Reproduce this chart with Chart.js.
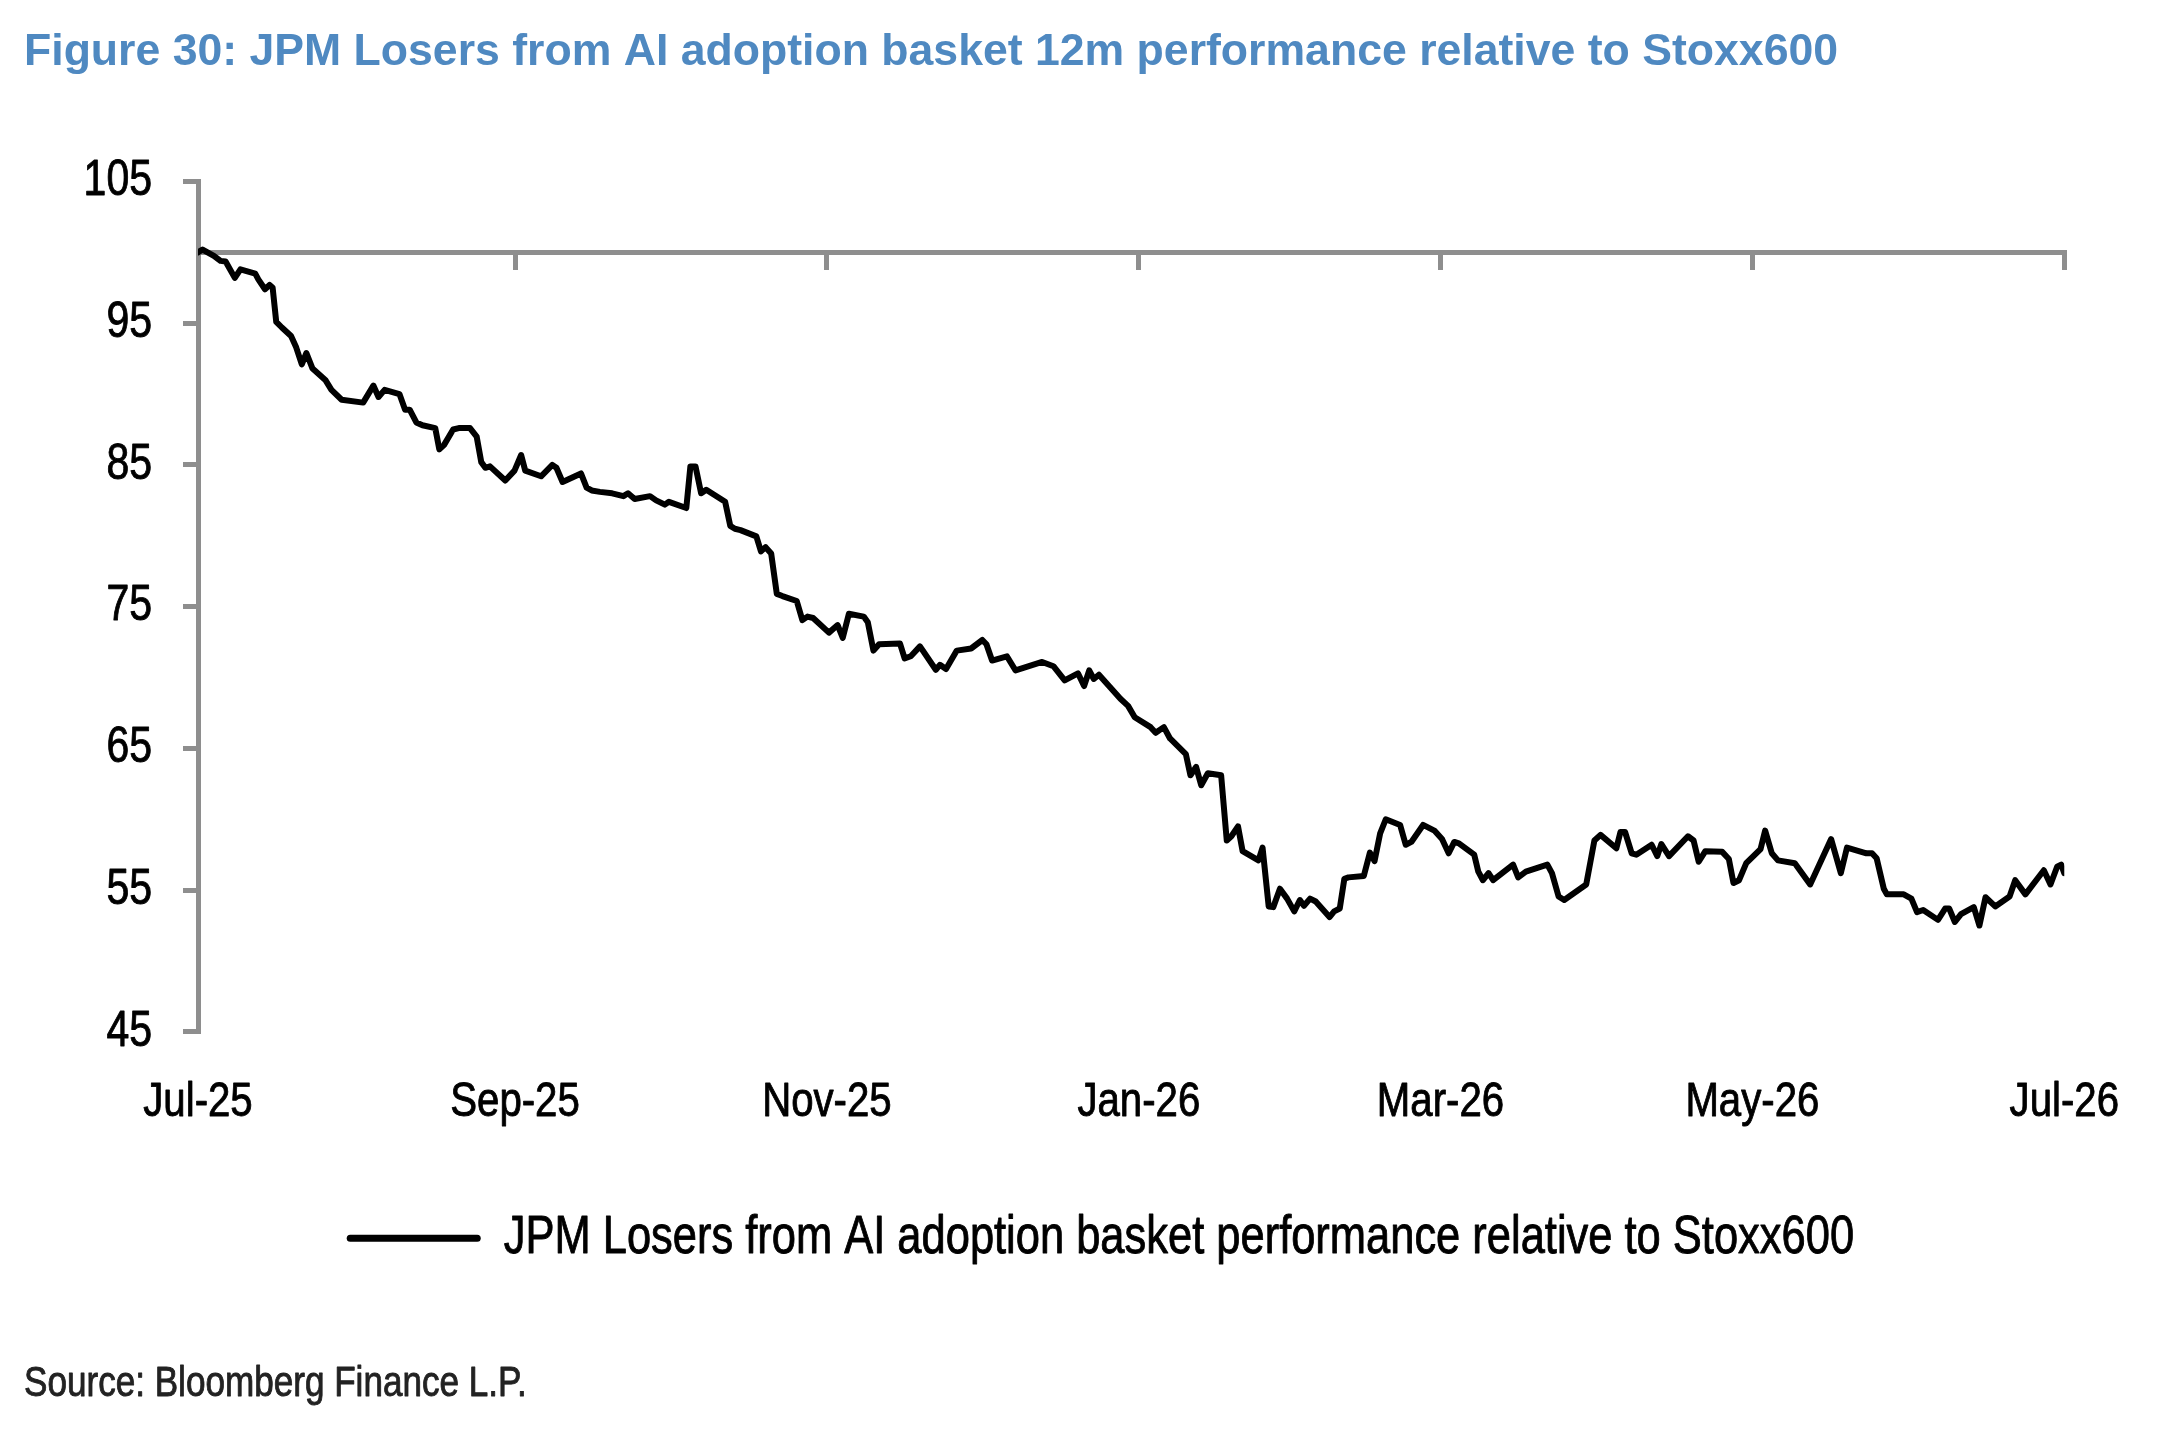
<!DOCTYPE html>
<html>
<head>
<meta charset="utf-8">
<script src="https://cdn.jsdelivr.net/npm/chart.js@4.4.1/dist/chart.umd.min.js"></script>
<style>
  html, body { margin: 0; padding: 0; background: #ffffff; }
  #wrap { width: 2160px; height: 1435px; position: relative; }
</style>
</head>
<body>
<div id="wrap"><canvas id="c"></canvas></div>
<script>
const chartTitle = 'Figure 30: JPM Losers from AI adoption basket 12m performance relative to Stoxx600';
const seriesName = 'JPM Losers from AI adoption basket performance relative to Stoxx600';
const sourceNote = 'Source: Bloomberg Finance L.P.';

// x positions are days since 1 Jul 2025
const tickDays = [0, 62, 123, 184, 243, 304, 365];
const tickLabels = ['Jul-25', 'Sep-25', 'Nov-25', 'Jan-26', 'Mar-26', 'May-26', 'Jul-26'];
const yTicks = [45, 55, 65, 75, 85, 95, 105];

const days = [
  0, 0.9, 3.1, 4.4, 5.4, 7.2, 8.3, 11.2, 11.8, 13.1, 14.0, 14.6, 15.3, 16.4, 18.2, 19.2, 20.3, 21.2, 22.4, 24.9,
  26.1, 28.1, 32.3, 34.3, 35.3, 36.5, 39.4, 40.5, 41.4, 42.7, 43.9, 46.4, 47.2, 48.1, 49.9, 51.0, 53.2, 54.5, 55.4, 56.2,
  57.1, 60.1, 61.9, 63.2, 64.0, 67.1, 69.3, 70.1, 71.3, 74.9, 76.0, 77.0, 78.6, 81.0, 83.2, 84.1, 85.4, 88.4, 89.6, 91.3,
  92.1, 95.5, 96.3, 97.3, 98.4, 99.4, 103.1, 104.1, 105.0, 106.1, 109.2, 110.1, 111.0, 112.1, 113.2, 114.3, 117.1, 118.2, 119.2, 120.3,
  123.4, 125.1, 126.1, 127.3, 130.2, 131.0, 132.1, 133.2, 137.3, 138.2, 139.4, 141.2, 144.3, 145.1, 146.3, 148.4, 151.2, 153.4, 154.2, 155.3,
  158.2, 159.9, 165.1, 167.3, 169.5, 172.1, 173.3, 174.3, 175.2, 176.2, 180.4, 181.9, 183.2, 186.3, 187.3, 188.9, 190.1, 193.2, 194.1, 195.2,
  196.2, 197.5, 200.1, 201.2, 202.1, 203.4, 204.3, 207.4, 208.2, 209.4, 210.3, 211.6, 213.0, 214.4, 215.5, 216.3, 217.5, 218.6, 221.3, 222.2,
  223.3, 224.2, 225.0, 228.0, 229.2, 230.1, 231.2, 232.3, 235.1, 236.2, 237.3, 239.6, 241.8, 243.3, 244.6, 245.7, 246.6, 249.6, 250.4, 251.3,
  252.4, 253.3, 257.2, 258.2, 259.7, 263.9, 264.8, 266.1, 267.2, 271.5, 273.1, 274.3, 277.4, 278.2, 279.1, 280.4, 281.3, 284.3, 285.4, 286.2,
  287.7, 291.4, 292.5, 293.5, 294.8, 298.1, 299.4, 300.3, 301.4, 302.8, 305.6, 306.5, 307.8, 309.0, 312.3, 315.3, 319.4, 321.3, 322.5, 326.3,
  327.4, 328.3, 329.7, 330.3, 333.6, 335.1, 336.2, 337.4, 340.3, 341.7, 342.5, 343.6, 344.8, 347.3, 348.4, 349.6, 351.5, 354.3, 355.4, 357.4,
  361.0, 362.3, 363.6, 364.4, 365.0
];
const values = [
  100.0, 100.2, 99.76, 99.4, 99.35, 98.2, 98.8, 98.5, 98.1, 97.4, 97.7, 97.5, 95.1, 94.7, 94.1, 93.3, 92.1, 92.9, 91.8, 91.0,
  90.3, 89.6, 89.4, 90.6, 89.8, 90.3, 90.0, 88.9, 88.9, 88.0, 87.8, 87.6, 86.1, 86.4, 87.5, 87.6, 87.6, 87.0, 85.2, 84.8,
  84.9, 83.9, 84.6, 85.7, 84.6, 84.2, 85.0, 84.8, 83.8, 84.4, 83.4, 83.2, 83.1, 83.0, 82.8, 83.0, 82.6, 82.8, 82.5, 82.2,
  82.4, 81.96, 84.9, 84.9, 83.0, 83.25, 82.4, 80.7, 80.5, 80.4, 79.96, 78.9, 79.2, 78.75, 75.9, 75.75, 75.4, 74.05, 74.3, 74.2,
  73.17, 73.7, 72.8, 74.5, 74.3, 73.9, 71.9, 72.35, 72.4, 71.35, 71.5, 72.2, 70.55, 70.9, 70.6, 71.9, 72.05, 72.65, 72.35, 71.2,
  71.5, 70.5, 71.1, 70.8, 69.8, 70.3, 69.4, 70.5, 69.9, 70.2, 68.5, 68.0, 67.2, 66.5, 66.1, 66.5, 65.7, 64.6, 63.1, 63.7,
  62.4, 63.25, 63.1, 58.5, 58.8, 59.5, 57.75, 57.1, 58.0, 53.85, 53.8, 55.1, 54.4, 53.5, 54.3, 53.9, 54.4, 54.2, 53.1, 53.5,
  53.7, 55.8, 55.9, 56.0, 57.65, 57.05, 59.0, 60.0, 59.6, 58.2, 58.4, 59.6, 59.2, 58.6, 57.6, 58.4, 58.3, 57.5, 56.3, 55.7,
  56.2, 55.7, 56.8, 55.9, 56.3, 56.8, 56.2, 54.55, 54.3, 55.4, 58.5, 58.9, 57.95, 59.1, 59.1, 57.6, 57.5, 58.2, 57.4, 58.25,
  57.4, 58.8, 58.5, 57.0, 57.75, 57.7, 57.2, 55.5, 55.7, 56.9, 57.9, 59.2, 57.6, 57.1, 56.9, 55.4, 58.6, 56.2, 58.0, 57.6,
  57.6, 57.25, 55.1, 54.7, 54.7, 54.4, 53.45, 53.6, 52.9, 53.7, 53.7, 52.75, 53.3, 53.8, 52.5, 54.5, 53.85, 54.55, 55.7, 54.7,
  56.4, 55.4, 56.65, 56.8, 56.2
];

const AXIS_GREY = '#8e8e8e';
const FONT_FAMILY = "'Liberation Sans', Arial, sans-serif";

// The reference uses a condensed Arial for all non-bold text; no narrow face is installed,
// so regular-weight text on this canvas is drawn (and measured) horizontally condensed.
const NARROW_FACTOR = 0.82;
const canvas = document.getElementById('c');
const ctx0 = canvas.getContext('2d');
const rawFill = ctx0.fillText.bind(ctx0);
const rawStroke = ctx0.strokeText.bind(ctx0);
const rawMeasure = ctx0.measureText.bind(ctx0);
const isNarrow = () => !/bold|\b[6-9]00\b/.test(ctx0.font);
ctx0.fillText = function (text, x, y, maxWidth) {
  if (!isNarrow()) {
    return maxWidth === undefined ? rawFill(text, x, y) : rawFill(text, x, y, maxWidth);
  }
  ctx0.save();
  ctx0.translate(x, y);
  ctx0.scale(NARROW_FACTOR, 1);
  rawFill(text, 0, 0);
  ctx0.strokeStyle = ctx0.fillStyle;
  ctx0.lineWidth = 0.9;
  ctx0.lineJoin = 'round';
  rawStroke(text, 0, 0);
  ctx0.restore();
};
ctx0.measureText = function (text) {
  const m = rawMeasure(text);
  if (!isNarrow()) return m;
  return {
    width: m.width * NARROW_FACTOR,
    actualBoundingBoxLeft: m.actualBoundingBoxLeft * NARROW_FACTOR,
    actualBoundingBoxRight: m.actualBoundingBoxRight * NARROW_FACTOR,
    actualBoundingBoxAscent: m.actualBoundingBoxAscent,
    actualBoundingBoxDescent: m.actualBoundingBoxDescent,
    fontBoundingBoxAscent: m.fontBoundingBoxAscent,
    fontBoundingBoxDescent: m.fontBoundingBoxDescent
  };
};

const points = days.map((d, i) => ({ x: d, y: values[i] }));
const setTicks = (scale) => { scale.ticks = tickDays.map(v => ({ value: v })); };

// nudge the legend block slightly left, as in the reference
const legendShift = {
  id: 'legendShift',
  afterLayout(chart) {
    if (chart.legend) { chart.legend.left -= 29; chart.legend.right -= 29; }
  }
};

new Chart(canvas, {
  type: 'line',
  plugins: [legendShift],
  data: {
    datasets: [{
      label: seriesName,
      data: points,
      borderColor: '#000000',
      backgroundColor: '#000000',
      borderWidth: 6,
      pointRadius: 0,
      tension: 0,
      borderJoinStyle: 'round',
      borderCapStyle: 'round'
    }]
  },
  options: {
    responsive: true,
    maintainAspectRatio: false,
    animation: false,
    devicePixelRatio: 1,
    layout: { padding: { left: 24, right: 90, top: 0, bottom: 0 } },
    plugins: {
      title: {
        display: true,
        text: chartTitle,
        align: 'start',
        color: '#4f89c1',
        font: { family: FONT_FAMILY, weight: 'bold', size: 44.6 },
        padding: { top: 26, bottom: 102 }
      },
      subtitle: {
        display: true,
        position: 'bottom',
        text: sourceNote,
        align: 'start',
        color: '#222222',
        font: { family: FONT_FAMILY, size: 42.8 },
        padding: { top: 84, bottom: 25 }
      },
      legend: {
        display: true,
        position: 'bottom',
        fullSize: false,
        labels: {
          color: '#000000',
          font: { family: FONT_FAMILY, size: 53 },
          usePointStyle: true,
          pointStyle: 'line',
          pointStyleWidth: 127,
          padding: 39,
          generateLabels: (chart) => {
            const items = Chart.defaults.plugins.legend.labels.generateLabels(chart);
            items.forEach(it => { it.lineWidth = 7; it.strokeStyle = '#000000'; it.lineCap = 'round'; it.pointStyle = 'line'; });
            return items;
          }
        }
      },
      tooltip: { enabled: false }
    },
    scales: {
      x: {
        type: 'linear',
        min: 0,
        max: 365,
        position: 'bottom',
        afterBuildTicks: setTicks,
        grid: { display: false, drawTicks: false },
        border: { display: false },
        ticks: {
          autoSkip: false,
          maxRotation: 0,
          minRotation: 0,
          padding: 41,
          color: '#000000',
          font: { family: FONT_FAMILY, size: 49 },
          callback: (v) => tickLabels[tickDays.indexOf(v)]
        }
      },
      xLine: {
        type: 'linear',
        display: true,
        min: 0,
        max: 365,
        position: { y: 100 },
        afterBuildTicks: setTicks,
        grid: { display: true, drawOnChartArea: false, drawTicks: true, tickLength: 15, color: AXIS_GREY, lineWidth: 5 },
        border: { display: true, color: AXIS_GREY, width: 5 },
        ticks: { display: false }
      },
      y: {
        min: 45,
        max: 105,
        afterBuildTicks: (scale) => { scale.ticks = yTicks.map(v => ({ value: v })); },
        afterFit: (scale) => { scale.width = 174; },
        grid: { display: true, drawOnChartArea: false, drawTicks: true, tickLength: 15, color: AXIS_GREY, lineWidth: 5 },
        border: { display: true, color: AXIS_GREY, width: 5 },
        ticks: {
          padding: 31,
          color: '#000000',
          font: { family: FONT_FAMILY, size: 50 }
        }
      }
    }
  }
});
</script>
</body>
</html>
